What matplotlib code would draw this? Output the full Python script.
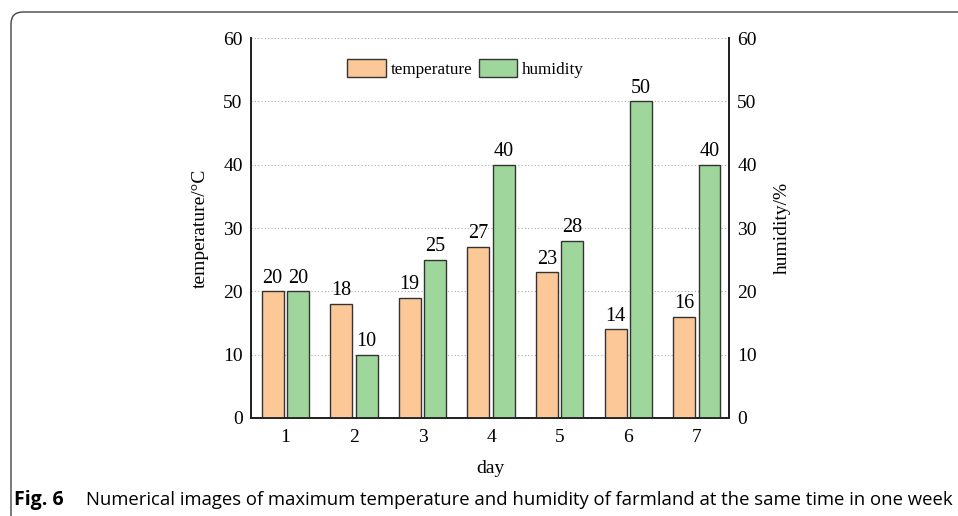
import matplotlib.pyplot as plt
from matplotlib.patches import FancyBboxPatch
import numpy as np

# data
days = ['1', '2', '3', '4', '5', '6', '7']
temperature = [20, 18, 19, 27, 23, 14, 16]
humidity = [20, 10, 25, 40, 28, 50, 40]

temp_color = '#fdc897'
hum_color = '#9fd69b'
edge = '#333333'

plt.rcParams['font.family'] = ['Liberation Serif', 'DejaVu Serif']

fig = plt.figure(figsize=(9.58, 5.16), dpi=100)

# rounded frame around the figure (open on the right/bottom like the page), in inches
frame = FancyBboxPatch((0.11, -0.5), 20, 5.54, boxstyle='round,pad=0,rounding_size=0.12',
                       transform=fig.dpi_scale_trans, fill=False, edgecolor='#444444',
                       linewidth=1.0)
fig.patches.append(frame)

ax = fig.add_axes([0.262, 0.190, 0.499, 0.736])
ax2 = ax.twinx()

x = np.arange(1, len(days) + 1)
w = 0.32
off = 0.185
b1 = ax.bar(x - off, temperature, w, color=temp_color, edgecolor=edge, linewidth=1.0,
            label='temperature', zorder=3)
b2 = ax.bar(x + off, humidity, w, color=hum_color, edgecolor=edge, linewidth=1.0,
            label='humidity', zorder=3)

for bars, vals in ((b1, temperature), (b2, humidity)):
    for r, v in zip(bars, vals):
        ax.text(r.get_x() + r.get_width() / 2, v + 0.6, str(v), ha='center', va='bottom',
                fontsize=14.5, zorder=4)

ax.set_xlim(0.5, 7.47)
ax.set_ylim(0, 60)
ax2.set_ylim(0, 60)
ax.set_yticks(range(0, 61, 10))
ax2.set_yticks(range(0, 61, 10))
ax.set_xticks(x)
ax.set_xticklabels(days)

ax.yaxis.grid(True, linestyle=(0, (1, 2)), color='#aaaaaa', linewidth=0.8, zorder=0)
ax.set_axisbelow(True)

for a in (ax, ax2):
    a.tick_params(length=0, labelsize=14, pad=6)
    a.spines['top'].set_visible(False)
    for s in ('left', 'right', 'bottom'):
        a.spines[s].set_linewidth(1.3)
        a.spines[s].set_color('#222222')
ax.tick_params(axis='x', pad=8)

ax.set_ylabel('temperature/°C', fontsize=14, labelpad=10)
ax2.set_ylabel('humidity/%', fontsize=14, labelpad=12)
ax.set_xlabel('day', fontsize=14, labelpad=10)

ax.legend(loc='center', bbox_to_anchor=(0.449, 0.921), ncol=2, frameon=False, fontsize=12.3,
          handlelength=2.25, handleheight=1.3, handletextpad=0.3, columnspacing=0.35)

# caption
fig.text(0.0145, 0.0215, 'Fig. 6', fontsize=14, fontweight='bold', family='Open Sans',
         ha='left', va='baseline')
fig.text(0.0895, 0.0215, 'Numerical images of maximum temperature and humidity of farmland at the same time in one week',
         fontsize=13.3, family='Open Sans', ha='left', va='baseline')

fig.savefig('out.png', dpi=100)
